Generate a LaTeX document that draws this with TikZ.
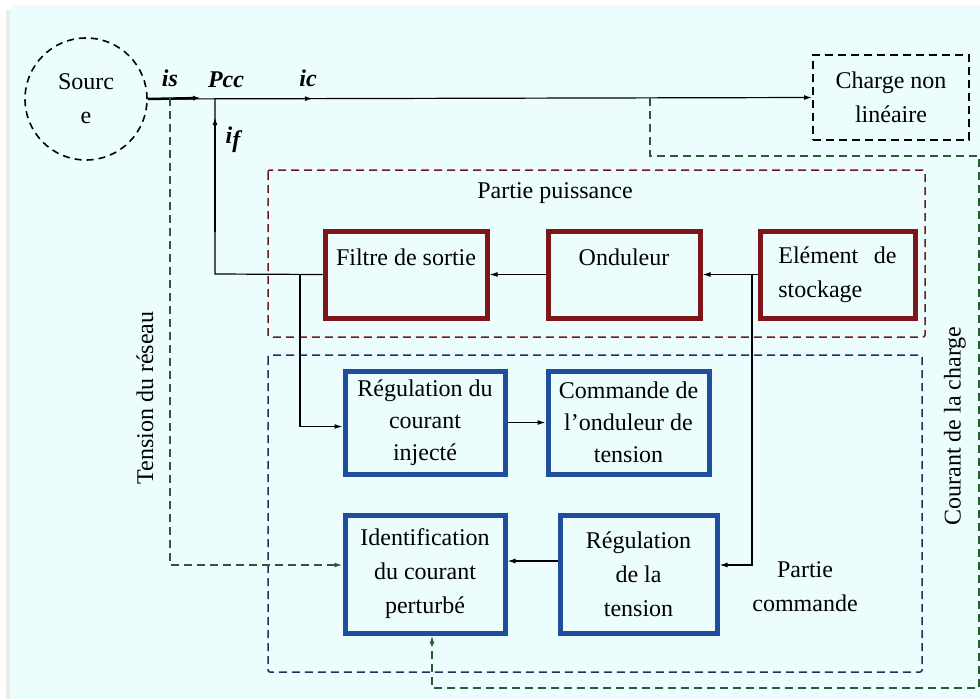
\documentclass[tikz,border=0pt]{standalone}
\usepackage{fontspec}
\setmainfont{Liberation Serif}
\usetikzlibrary{arrows.meta,decorations.markings}

\definecolor{bgcyan}{HTML}{ECFDFE}
\definecolor{boxred}{HTML}{7D1618}
\definecolor{boxblue}{HTML}{1F4E9E}
\definecolor{dashred}{HTML}{6E1A1E}
\definecolor{dashnavy}{HTML}{2B2B5E}
\definecolor{dashgreen}{HTML}{2A5A36}

\begin{document}
\begin{tikzpicture}[x=1pt, y=-1pt, >={Latex[length=8pt,width=5pt]},
    txt/.style={font=\fontsize{24}{34}\selectfont, align=center},
    redbox/.style={txt, draw=boxred, line width=5pt, inner sep=0pt},
    bluebox/.style={txt, draw=boxblue, line width=5pt, inner sep=0pt},
    wire/.style={line width=1.2pt},
    gdash/.style={draw=dashgreen, line width=1.5pt, dash pattern=on 8pt off 5pt},
    zone/.style={line width=1.5pt, dash pattern=on 8pt off 5pt, rounded corners=2pt},
    lbl/.style={font=\fontsize{24}{26}\selectfont\bfseries\itshape}]
    \useasboundingbox (0,0) rectangle (980,699);
    \fill[white] (0,0) rectangle (980,699);
    \fill[black!8] (6,10) rectangle (10,699);
    \fill[bgcyan] (10,5) rectangle (980,699);

    % zones puissance / commande
    \draw[zone, dashred] (268,170) rectangle (925,337);
    \draw[zone, dashnavy] (268,355) rectangle (922,672);
    \node[txt] (ppuis) at (555,193) {Partie puissance};
    \node[txt] (pcmd) at (805,587) {Partie\\commande};

    % source et charge
    \node[txt, draw, circle, line width=1.6pt, dash pattern=on 7pt off 5pt, minimum size=122pt, inner sep=0pt] (src) at (86,99) {Sourc\\e};
    \node[txt, draw, line width=2pt, dash pattern=on 8pt off 5pt, minimum width=156pt, minimum height=85pt, inner sep=0pt] (chg) at (891,97.5) {Charge non\\linéaire};

    % blocs de puissance
    \node[redbox, minimum width=162pt, minimum height=87pt] (fil) at (406,274.5) {Filtre de sortie\\\mbox{}};
    \node[redbox, minimum width=152pt, minimum height=87pt] (ond) at (624,274.5) {Onduleur\\\mbox{}};
    \node[redbox, minimum width=155pt, minimum height=87pt, align=left] (stk) at (837.5,274.5) {Elément\hspace{0.4em} de\\stockage};

    % blocs de commande
    \node[bluebox, minimum width=160pt, minimum height=103pt, font=\fontsize{24}{32}\selectfont] (rci) at (425,422.5) {Régulation du\\courant\\injecté};
    \node[bluebox, minimum width=161pt, minimum height=103pt, font=\fontsize{24}{32}\selectfont] (cmd) at (628.5,422.5) {Commande de\\l’onduleur de\\tension};
    \node[bluebox, minimum width=160pt, minimum height=118pt] (idc) at (425,574) {Identification\\du courant\\perturbé};
    \node[bluebox, minimum width=157pt, minimum height=118pt] (rvt) at (638.5,574) {Régulation\\de la\\tension};

    % points du réseau
    \coordinate (pcc) at (215,98);
    \coordinate (ifbot) at (215,274);
    \coordinate (isend) at (201,98);
    \coordinate (jfil) at (300,274);
    \coordinate (jstk) at (752,274);
    \coordinate (vres) at (170,98);
    \coordinate (ich) at (650,98);

    % ligne principale
    \draw[wire, ->, postaction={decorate}, decoration={markings,
        mark=at position 165pt with {\arrow{Latex[length=8pt,width=5pt]}}}] (src.east) -- (chg.west);
    \draw[line width=2.5pt, ->] (src.east) -- (isend);
    \node[lbl] (is) at (170,78) {is};
    \node[lbl] (pcclbl) at (226,80) {Pcc};
    \node[lbl] (ic) at (308,78) {ic};

    % courant injecte
    \draw[wire] (fil.west) -- (ifbot) -- (pcc);
    \draw[line width=2.5pt, ->] (215,232) -- (215,117);
    \node[lbl] (if) at (233,140) {i\raisebox{-0.35ex}{f}};

    % liaisons
    \draw[wire, ->] (ond.west) -- (fil.east);
    \draw[wire, ->] (stk.west) -- (ond.east);
    \draw[wire, ->] (jfil) |- ([yshift=-4pt]rci.west);
    \draw[wire, ->] (rci.east) -- (cmd.west);
    \draw[wire, ->] (jstk) |- ([yshift=9pt]rvt.east);
    \draw[wire, ->] ([yshift=13pt]rvt.west) -- ([yshift=13pt]idc.east);

    % mesures
    \draw[gdash, ->] (vres) |- ([yshift=9pt]idc.west);
    \draw[gdash, ->] (ich) -- (650,156) -- (979,156) -- (979,688) -- (432,688) -- ([xshift=7pt]idc.south);
    \node[txt, rotate=90] (tres) at (145,398) {Tension du réseau};
    \node[txt, rotate=90] (cch) at (955,426) {Courant de la charge};
\end{tikzpicture}
\end{document}
